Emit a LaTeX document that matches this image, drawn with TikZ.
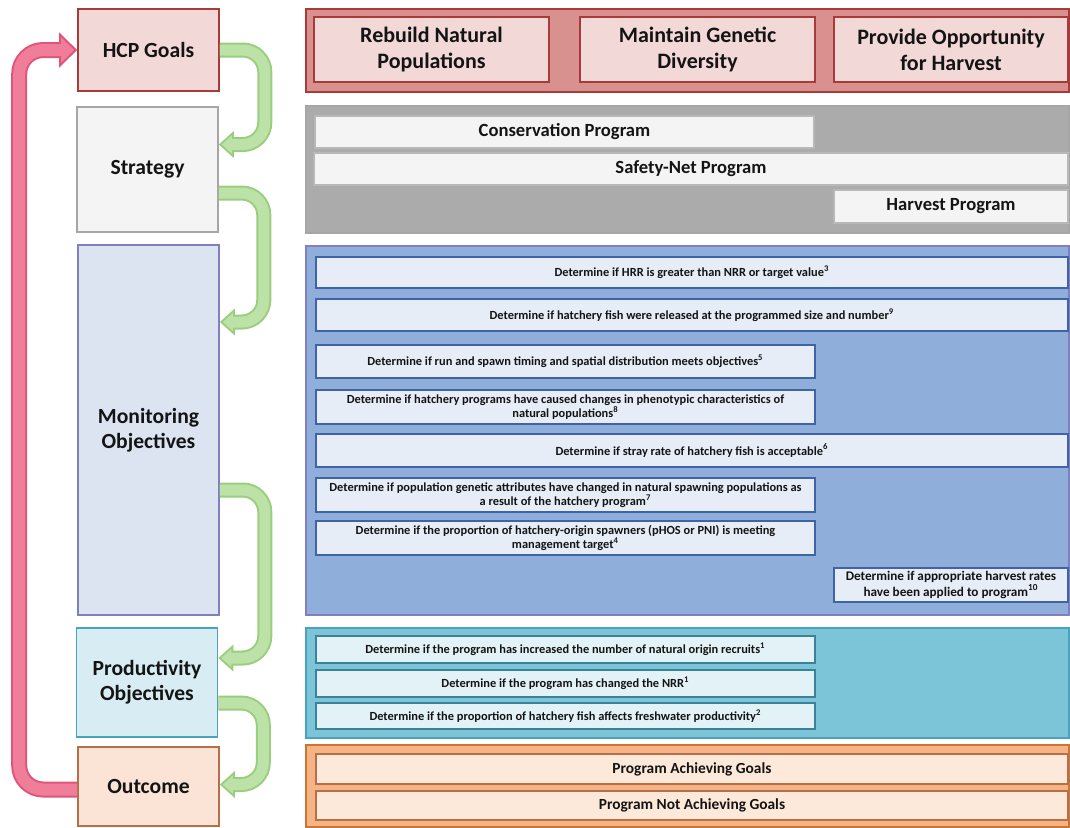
\documentclass[tikz,border=0pt]{standalone}
\usepackage{fontspec}
\setmainfont{Carlito}
\usepackage{tikz}
\usetikzlibrary{arrows.meta, positioning}

\definecolor{goalfill}{HTML}{F2D8D7}
\definecolor{goalline}{HTML}{A83A38}
\definecolor{goalpanel}{HTML}{D8918F}
\definecolor{stratfill}{HTML}{F4F4F4}
\definecolor{stratline}{HTML}{A6A6A6}
\definecolor{stratpanel}{HTML}{ABABAB}
\definecolor{monfill}{HTML}{DCE4F2}
\definecolor{monline}{HTML}{8080C0}
\definecolor{monpanel}{HTML}{8FAEDA}
\definecolor{itemfill}{HTML}{E6EDF7}
\definecolor{itemline}{HTML}{3F63A8}
\definecolor{prodfill}{HTML}{D8EDF3}
\definecolor{prodline}{HTML}{4AA3BE}
\definecolor{prodpanel}{HTML}{7CC5D9}
\definecolor{proditem}{HTML}{E3F2F7}
\definecolor{outfill}{HTML}{FBE3D6}
\definecolor{outline}{HTML}{B5704A}
\definecolor{outpanel}{HTML}{F6B485}
\definecolor{outitem}{HTML}{FDE9DA}
\definecolor{greenline}{HTML}{9BCD7E}
\definecolor{greenfill}{HTML}{BCE2A8}
\definecolor{pinkline}{HTML}{DE5579}
\definecolor{pinkfill}{HTML}{F07E9B}
\definecolor{inktext}{HTML}{141414}

\begin{document}
\begin{tikzpicture}[x=0.5pt, y=-0.5pt,
  every node/.style={align=center, inner sep=0pt, text=inktext},
  stage/.style={draw, line width=0.8pt, minimum width=70.5pt,
    font=\fontsize{10.8}{12.5}\selectfont\bfseries},
  goalbox/.style={draw=goalline, fill=goalfill, line width=0.8pt,
    minimum width=117.5pt, minimum height=32.5pt,
    font=\fontsize{11}{13}\selectfont\bfseries},
  item/.style={draw=itemline, fill=itemfill, line width=0.7pt,
    font=\fontsize{6.2}{7.3}\selectfont\bfseries},
  wide/.style={minimum width=376pt},
  half/.style={minimum width=249.5pt},
  narrow/.style={minimum width=117pt},
  loop out/.style={line width=7.5pt, draw=greenline, rounded corners=11pt,
    -{Triangle[length=7.5pt, width=13pt]}},
  loop in/.style={line width=5.5pt, draw=greenfill, rounded corners=11pt,
    shorten >=1.5pt, -{Triangle[length=5pt, width=8.7pt]}},
  back out/.style={line width=8pt, draw=pinkline, rounded corners=12pt,
    -{Triangle[length=9pt, width=17pt]}},
  back in/.style={line width=6pt, draw=pinkfill, rounded corners=12pt,
    shorten >=1.5pt, -{Triangle[length=6.5pt, width=12.3pt]}}]
  \useasboundingbox (0,0) rectangle (1070,827);

  % Stages (left)
  \node[stage, draw=goalline, fill=goalfill, minimum height=41pt] (goals) at (148.5,50) {HCP Goals};
  \node[stage, draw=stratline, fill=stratfill, minimum height=62.5pt] (strategy) at (147.5,169.5) {Strategy};
  \node[stage, draw=monline, fill=monfill, minimum height=185pt] (monitor) at (148.5,430) {Monitoring\\Objectives};
  \node[stage, draw=prodline, fill=prodfill, minimum height=54.5pt] (product) at (147,682.5) {Productivity\\Objectives};
  \node[stage, draw=outline, fill=outfill, minimum height=39.5pt] (outcome) at (148.5,786.5) {Outcome};

  % Panels (right)
  \draw[goalline, fill=goalpanel, line width=0.8pt] (306,9) rectangle (1069,92);
  \draw[stratline, fill=stratpanel, line width=0.8pt] (306,106) rectangle (1069,233);
  \draw[monline, fill=monpanel, line width=0.8pt] (306,246) rectangle (1069,615);
  \draw[prodline, fill=prodpanel, line width=0.8pt] (306,628) rectangle (1069,738);
  \draw[outline!70!orange, fill=outpanel, line width=0.8pt] (306,745) rectangle (1069,827);

  % Goals
  \node[goalbox] (rebuild) at (431.5,49.5) {Rebuild Natural\\Populations};
  \node[goalbox] (genetic) at (697.5,49.5) {Maintain Genetic\\Diversity};
  \node[goalbox, minimum width=117pt] (harvestgoal) at (951,49.5) {Provide Opportunity\\for Harvest};

  % Strategy
  \node[item, half, draw=stratline!80, fill=stratfill, minimum height=16pt,
    font=\fontsize{9.3}{11}\selectfont\bfseries] (conserv) at (564.5,132) {Conservation Program};
  \node[item, minimum width=377pt, draw=stratline!80, fill=stratfill, minimum height=16pt,
    font=\fontsize{9.3}{11}\selectfont\bfseries] (safety) at (691,169) {Safety-Net Program};
  \node[item, narrow, draw=stratline!80, fill=stratfill, minimum height=16.5pt,
    font=\fontsize{9.3}{11}\selectfont\bfseries] (harvestprog) at (951,206.5) {Harvest Program};

  % Monitoring objectives
  \node[item, wide, minimum height=15.5pt] (hrr) at (692,272.5) {Determine if HRR is greater than NRR or target value\textsuperscript{3}};
  \node[item, wide, minimum height=16pt] (release) at (692,315) {Determine if hatchery fish were released at the programmed size and number\textsuperscript{9}};
  \node[item, half, minimum height=16.5pt] (timing) at (565.5,361.5) {Determine if run and spawn timing and spatial distribution meets objectives\textsuperscript{5}};
  \node[item, half, minimum height=17pt] (pheno) at (565.5,407) {Determine if hatchery programs have caused changes in phenotypic characteristics of\\natural populations\textsuperscript{8}};
  \node[item, wide, minimum height=16.5pt] (stray) at (692,450.5) {Determine if stray rate of hatchery fish is acceptable\textsuperscript{6}};
  \node[item, half, minimum height=17pt] (genattr) at (565.5,495) {Determine if population genetic attributes have changed in natural spawning populations as\\a result of the hatchery program\textsuperscript{7}};
  \node[item, half, minimum height=17pt] (phos) at (565.5,538) {Determine if the proportion of hatchery-origin spawners (pHOS or PNI) is meeting\\management target\textsuperscript{4}};
  \node[item, narrow, minimum height=17pt, font=\fontsize{6.6}{7.8}\selectfont\bfseries] (rates) at (951,585) {Determine if appropriate harvest rates\\have been applied to program\textsuperscript{10}};

  % Productivity objectives
  \node[item, half, draw=prodline!80!black, fill=proditem, minimum height=13.5pt] (recruits) at (565.5,649.5) {Determine if the program has increased the number of natural origin recruits\textsuperscript{1}};
  \node[item, half, draw=prodline!80!black, fill=proditem, minimum height=13.5pt] (nrr) at (565.5,683.5) {Determine if the program has changed the NRR\textsuperscript{1}};
  \node[item, half, draw=prodline!80!black, fill=proditem, minimum height=13pt] (fresh) at (565.5,716) {Determine if the proportion of hatchery fish affects freshwater productivity\textsuperscript{2}};

  % Outcome
  \node[item, wide, draw=outline, fill=outitem, minimum height=15pt,
    font=\fontsize{7.7}{9}\selectfont\bfseries] (achieve) at (692,769) {Program Achieving Goals};
  \node[item, wide, draw=outline, fill=outitem, minimum height=14.5pt,
    font=\fontsize{7.7}{9}\selectfont\bfseries] (notachieve) at (692,805.5) {Program Not Achieving Goals};

  % Green loops between stages
  \foreach \from/\fs/\to/\ts in {goals/0/strategy/12.5, strategy/-11.75/monitor/54,
      monitor/-30/product/12.25, product/-10.25/outcome/1} {
    \draw[loop out] ([yshift=\fs pt]\from.east) -- ++(45,0) |- ([yshift=\ts pt]\to.east);
    \draw[loop in] ([yshift=\fs pt]\from.east) -- ++(45,0) |- ([yshift=\ts pt]\to.east);
  }

  % Pink return arrow
  \draw[back out] ([yshift=-1.5pt]outcome.west) -- ++(-58,0) |- (goals.west);
  \draw[back in] ([yshift=-1.5pt]outcome.west) -- ++(-58,0) |- (goals.west);
\end{tikzpicture}
\end{document}
